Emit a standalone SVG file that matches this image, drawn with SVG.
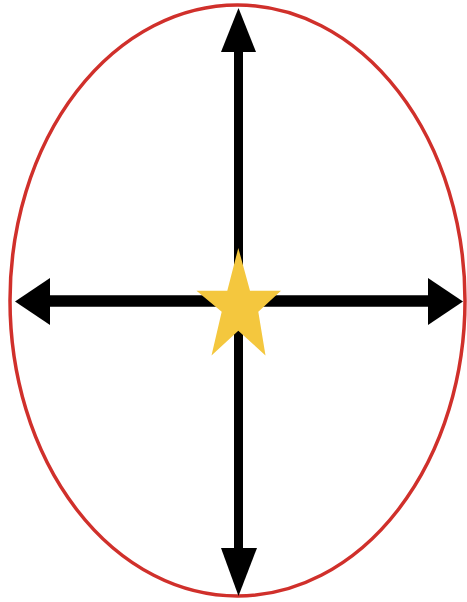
<svg xmlns="http://www.w3.org/2000/svg" width="467" height="602" viewBox="0 0 467 602">
  <style>
    .shaft { stroke: #000; fill: none; }
    .head { fill: #000; }
  </style>
  <rect width="467" height="602" fill="#fff"/>
  <g id="boundary">
    <ellipse cx="237.5" cy="300.5" rx="227.5" ry="295.5" fill="none" stroke="#d0302b" stroke-width="3.5"/>
  </g>
  <g id="connectors">
    <line class="shaft" x1="238.5" y1="48" x2="238.5" y2="552" stroke-width="9"/>
    <line class="shaft" x1="46" y1="301" x2="432" y2="301" stroke-width="11.5"/>
    <polygon class="head" points="238.5,8 256,52 221,52"/>
    <polygon class="head" points="238.5,596 221,548 257,548"/>
    <polygon class="head" points="15,301.5 50,278 50,325"/>
    <polygon class="head" points="463,301.5 428,278 428,325"/>
  </g>
  <g id="star">
    <polygon points="238.3,248 250,290.7 281,290.7 258.3,311.7 265.5,355.5 238.3,330.7 211.5,355.5 221.7,311.7 196.5,290.7 227.3,290.7" fill="#f4c73e"/>
  </g>
</svg>
